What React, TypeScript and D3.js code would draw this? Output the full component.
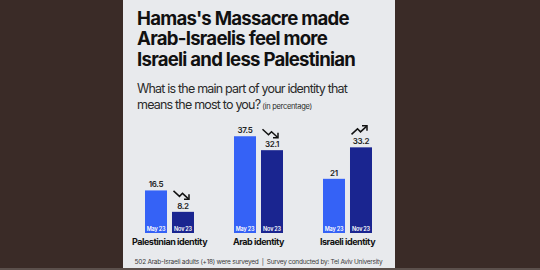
import React from "react";
import * as d3 from "d3";

const categories = ["Palestinian identity", "Arab identity", "Israeli identity"];
const periods = ["May 23", "Nov 23"];
const may23 = [16.5, 37.5, 21];
const nov23 = [8.2, 32.1, 33.2];
const trends = ["down", "down", "up"];

const titleLines = [
  "Hamas's Massacre made",
  "Arab-Israelis feel more",
  "Israeli and less Palestinian",
];
const subtitleLines = ["What is the main part of your identity that", "means the most to you?"];
const subtitleNote = "(in percentage)";
const footnote =
  "502 Arab-Israeli adults (+18) were surveyed  |  Survey conducted by: Tel Aviv University";

const W = 540;
const H = 270;
const colors = { "May 23": "#3562f6", "Nov 23": "#1a2590" };

const App: React.FC = () => {
  // group scale
  const x = d3.scaleBand().domain(categories).range([125, 392]).padding(0);
  // bars within a group
  const xInner = d3.scaleBand().domain(periods).range([0, 49]).paddingInner(0.185);
  const y = d3.scaleLinear().domain([0, 40]).range([233, 129.8]);

  const rows = categories.map((c, i) => ({
    category: c,
    values: [may23[i], nov23[i]],
    trend: trends[i],
  }));

  // small zigzag trend icons
  const down = d3.line()([[0, 0], [6, 5.5], [9, 2.5], [15, 8]]);
  const up = d3.line()([[0, 8], [6, 2.5], [9, 5.5], [15, 0]]);

  const font = "Inter, 'Noto Sans', sans-serif";

  return (
    <div style={{ position: "fixed", left: 0, top: 0 }}>
      <svg width={W} height={H} style={{ display: "block" }}>
        <rect width={W} height={H} fill="#3a2b27" />
        <rect x={123} y={0} width={272} height={H} fill="#e8eaed" />
        <rect x={0} y={268} width={W} height={2} fill="#5b504c" />

        <g fontFamily={font} fill="#111">
          {titleLines.map((t, i) => (
            <text
              key={t}
              x={137}
              y={25 + i * 20.3}
              fontSize={18.6}
              fontWeight={700}
              letterSpacing={-0.75}
            >
              {t}
            </text>
          ))}
        </g>

        <g fontFamily={font} fill="#2a2a2a">
          <text x={137} y={93} fontSize={12.5} letterSpacing={-0.8}>
            {subtitleLines[0]}
          </text>
          <text x={137} y={108.5} fontSize={12.5} letterSpacing={-0.8}>
            {subtitleLines[1]}
            <tspan fontSize={7.5} letterSpacing={-0.3} dx={2}>
              {subtitleNote}
            </tspan>
          </text>
        </g>

        {rows.map((r) => {
          const gx = x(r.category)! + x.bandwidth() / 2 - 24.5;
          const novX = gx + xInner("Nov 23")!;
          return (
            <g key={r.category} fontFamily={font}>
              {periods.map((p, j) => {
                const bx = gx + xInner(p)!;
                const v = r.values[j];
                return (
                  <g key={p}>
                    <rect
                      x={bx}
                      y={y(v)}
                      width={xInner.bandwidth()}
                      height={y(0) - y(v)}
                      fill={colors[p as keyof typeof colors]}
                    />
                    <text
                      x={bx + xInner.bandwidth() / 2}
                      y={y(v) - 3}
                      textAnchor="middle"
                      fontSize={8}
                      fontWeight={600}
                      fill="#222"
                      letterSpacing={-0.3}
                    >
                      {v}
                    </text>
                    <text
                      x={bx + xInner.bandwidth() / 2}
                      y={y(0) - 2.5}
                      textAnchor="middle"
                      fontSize={5.5}
                      fontWeight={600}
                      fill="#fff"
                      letterSpacing={-0.2}
                    >
                      {p}
                    </text>
                  </g>
                );
              })}
              <g
                transform={`translate(${novX + 1.5},${y(r.values[1]) - 21})`}
                fill="none"
                stroke="#111"
                strokeWidth={1.5}
                strokeLinejoin="miter"
              >
                <path d={r.trend === "down" ? down! : up!} />
                {r.trend === "down" ? (
                  <path d="M10.5,8.5 L15.5,8.5 L15.5,3.5" />
                ) : (
                  <path d="M10.5,-0.5 L15.5,-0.5 L15.5,4.5" />
                )}
              </g>
              <text
                x={x(r.category)! + x.bandwidth() / 2}
                y={244.5}
                textAnchor="middle"
                fontSize={9}
                fontWeight={700}
                fill="#111"
                letterSpacing={-0.45}
              >
                {r.category}
              </text>
            </g>
          );
        })}

        <text
          x={258.5}
          y={264}
          textAnchor="middle"
          fontFamily={font}
          fontSize={6.5}
          fill="#3a3a3a"
          letterSpacing={-0.25}
          xmlSpace="preserve"
        >
          {footnote}
        </text>
      </svg>
    </div>
  );
};

export default App;
